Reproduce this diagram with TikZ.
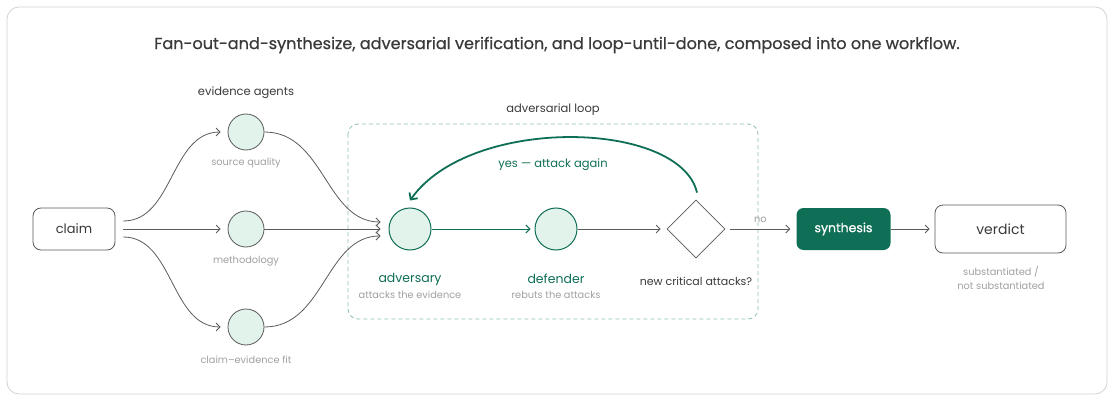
\documentclass[tikz,border=0pt]{standalone}
\usepackage{fontspec}
\setmainfont{Poppins}
\newfontfamily\medfont[FakeBold=0.7]{Poppins}
\usetikzlibrary{arrows.meta,shapes.geometric}
\definecolor{dk}{HTML}{3A3A3A}
\definecolor{ln}{HTML}{5A5A5A}
\definecolor{lg}{HTML}{A0A0A0}
\definecolor{gr}{HTML}{0F6E56}
\definecolor{gf}{HTML}{E1F3EA}
\definecolor{gd}{HTML}{8CC2AE}
\definecolor{fr}{HTML}{D2D2D2}
\tikzset{
  every node/.style={inner sep=0pt},
  agent/.style={circle, draw=ln, fill=gf, line width=0.8pt, minimum size=36pt},
  gagent/.style={circle, draw=gr, fill=gf, line width=1pt, minimum size=42pt},
  box/.style={rectangle, rounded corners=8pt, draw=ln, line width=0.8pt, fill=white},
  sub/.style={text=lg, font=\fontsize{9.8}{11}\selectfont},
  lbl/.style={text=dk, font=\fontsize{11.5}{13}\selectfont},
  glbl/.style={text=gr, font=\fontsize{12.5}{14}\selectfont},
  arr/.style={draw=ln, line width=0.8pt, -{Straight Barb[length=4pt,width=8pt]}},
  garr/.style={draw=gr, line width=1pt, -{Straight Barb[length=4pt,width=8pt]}},
}
\begin{document}
\begin{tikzpicture}[x=1pt,y=-1pt]
\useasboundingbox (0,0) rectangle (1114,401);
\draw[fr, line width=0.8pt, rounded corners=12pt] (7,7) rectangle (1107,394);
\node[text=dk, font=\medfont\fontsize{16.1}{18}\selectfont] (title) at (557,45) {Fan-out-and-synthesize, adversarial verification, and loop-until-done, composed into one workflow.};

% dashed loop region
\draw[gd, line width=0.8pt, dash pattern=on 4pt off 3pt, rounded corners=10pt] (348,124) rectangle (758,319);
\node[lbl] (looplbl) at (553,110) {adversarial loop};

% claim
\node[box, minimum width=82pt, minimum height=42pt] (claim) at (74,229) {\fontsize{13}{15}\selectfont\color{dk}claim};

% evidence agents
\node[lbl] (evlbl) at (246,93) {evidence agents};
\node[agent] (src) at (246,132) {};
\node[agent] (meth) at (246,229) {};
\node[agent] (fit) at (246,327) {};
\node[sub] (srcl) at (246,163) {source quality};
\node[sub] (methl) at (246,261) {methodology};
\node[sub] (fitl) at (246,360) {claim–evidence fit};

% adversary / defender
\node[gagent] (adv) at (410,229) {};
\node[gagent] (def) at (556,229) {};
\node[glbl] (advl) at (410,279) {adversary};
\node[sub] (advs) at (410,295) {attacks the evidence};
\node[glbl] (defl) at (556,279) {defender};
\node[sub] (defs) at (556,295) {rebuts the attacks};

% decision
\node[diamond, draw=ln, line width=0.8pt, fill=white, minimum width=58pt, minimum height=58pt, aspect=1] (dec) at (696,229) {};
\node[text=dk, font=\fontsize{11}{13}\selectfont] (decl) at (696,281) {new critical attacks?};

% synthesis & verdict
\node[rectangle, rounded corners=7pt, fill=gr, minimum width=94pt, minimum height=42pt, text=white, font=\medfont\fontsize{12.5}{14}\selectfont] (syn) at (843.5,229) {synthesis};
\node[box, minimum width=131pt, minimum height=48pt] (ver) at (1000.5,229) {\fontsize{14}{16}\selectfont\color{dk}verdict};
\node[sub] (ver1) at (1001,272) {substantiated /};
\node[sub] (ver2) at (1001,286) {not substantiated};

% fan-out arrows
\draw[arr] ([xshift=8pt,yshift=8pt]claim.east) .. controls +(50,0) and +(-50,0) .. ([xshift=-7pt]src.west);
\draw[arr] ([xshift=8pt]claim.east) -- ([xshift=-7pt]meth.west);
\draw[arr] ([xshift=8pt,yshift=-8pt]claim.east) .. controls +(50,0) and +(-50,0) .. ([xshift=-7pt]fit.west);

% fan-in arrows
\draw[arr] (src.east) .. controls +(60,0) and +(-55,0) .. ([xshift=-8pt,yshift=7pt]adv.west);
\draw[arr] (meth.east) -- ([xshift=-8pt]adv.west);
\draw[arr] (fit.east) .. controls +(60,0) and +(-55,0) .. ([xshift=-8pt,yshift=-7pt]adv.west);

% loop internals
\draw[garr] (adv.east) -- ([xshift=-4pt]def.west);
\draw[arr] (def.east) -- ([xshift=-6pt]dec.west);
\draw[gr, line width=1.8pt, -{Straight Barb[length=5pt,width=10pt]}] ([xshift=1pt,yshift=7pt]dec.north) .. controls (680,120) and (470,115) .. ([yshift=7pt]adv.north);
\node[text=gr, font=\fontsize{11.5}{13}\selectfont] (yes) at (553,165) {yes — attack again};

% exit
\draw[arr] ([xshift=5pt]dec.east) -- node[above=6pt, sub] (no) {no} ([xshift=-6pt]syn.west);
\draw[arr] (syn.east) -- ([xshift=-5pt]ver.west);
\end{tikzpicture}
\end{document}
